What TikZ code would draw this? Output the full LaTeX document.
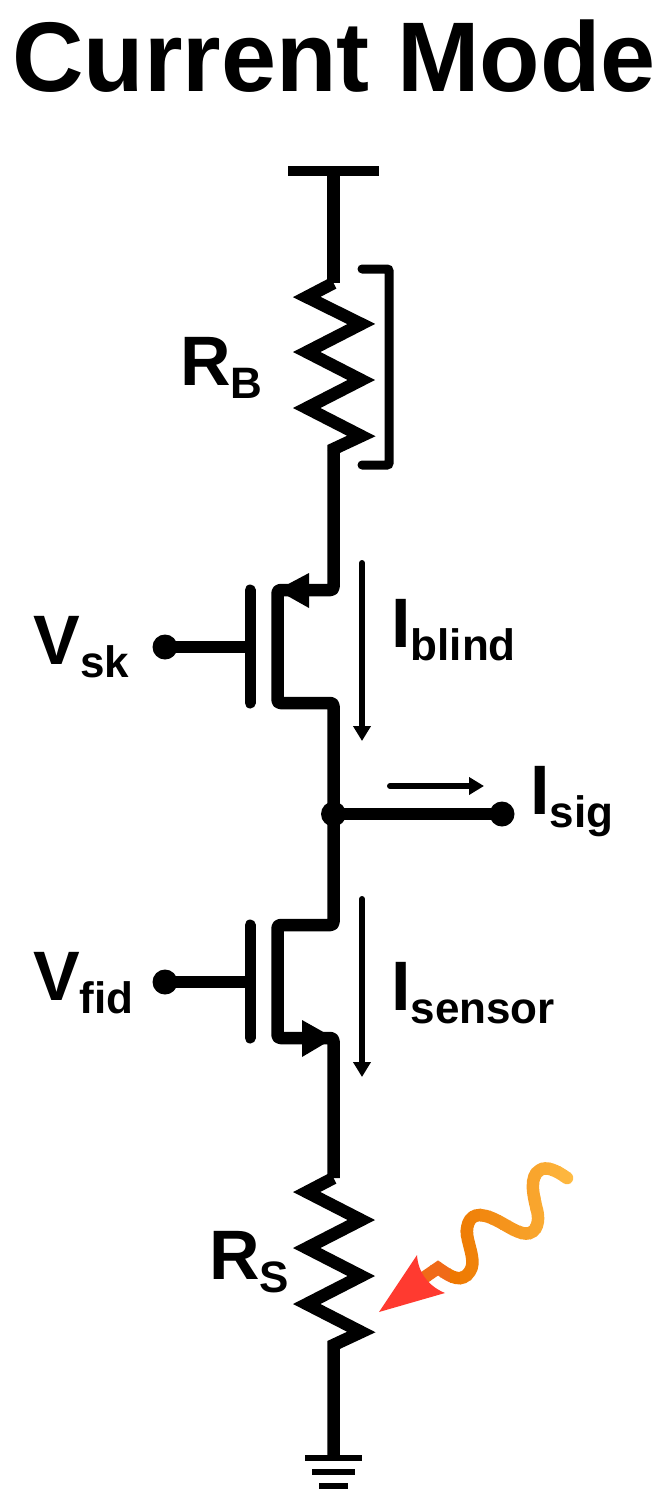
\documentclass[tikz,border=0pt]{standalone}
\usepackage{fontspec}
\usetikzlibrary{arrows.meta}
\setmainfont{Liberation Sans}
\newcommand{\wavypath}{(567,1178) .. controls (556,1170) and (546,1166) .. (540,1170) .. controls (529,1176) and (533,1195) .. (537,1210) .. controls (541,1227) and (533,1236) .. (522,1233) .. controls (510,1230) and (495,1216) .. (480,1215) .. controls (468,1215) and (465,1228) .. (468,1240) .. controls (472,1256) and (476,1266) .. (467,1275) .. controls (458,1283) and (447,1274) .. (438,1268) -- (422,1279)}
\newcommand{\sublabel}[2]{\fontsize{70}{70}\selectfont\bfseries #1\raisebox{-13pt}{\fontsize{44}{44}\selectfont #2}}
\begin{document}
\begin{tikzpicture}[x=1pt,y=-1pt]

    \tikzset{
      wire/.style={line width=12.5pt},
      thinwire/.style={line width=11.5pt},
      zigwire/.style={line width=12.5pt},
      gatebar/.style={line width=11pt,line cap=round},
      sensearrow/.style={line width=6pt,line cap=round,-{Triangle[length=15pt,width=17pt]}},
      terminal/.style={circle,fill=black,inner sep=0pt,minimum size=25pt},
      tranhead/.style={fill=black},
      textlabel/.style={anchor=base west,inner sep=0pt,text=black},
    }
    \useasboundingbox (0,0) rectangle (663,1510);

    \node[textlabel] (title) at (12,91) {\fontsize{99}{99}\selectfont\bfseries Current Mode};

    % supply and load
    \coordinate (vddleft) at (288,171);
    \coordinate (vddright) at (379,171);
    \coordinate (vdd) at (333.5,171);
    \coordinate (rbtop) at (333.5,283);
    \coordinate (rbbot) at (333.5,450);
    \draw[line width=10.5pt] (vddleft) -- (vddright);
    \draw[wire] (vdd) -- (rbtop);
    \draw[zigwire] (rbtop) -- (306.7,297) -- (361.3,324) -- (306.7,352) -- (361.3,380) -- (306.7,408) -- (361.3,436) -- (333.5,449) -- (rbbot);
    \coordinate (brtopa) at (362,269);
    \coordinate (brtopb) at (389,269);
    \coordinate (brbota) at (389,465);
    \coordinate (brbotb) at (362,465);
    \draw[line width=9pt,line cap=round,rounded corners=2pt] (brtopa) -- (brtopb) -- (brbota) -- (brbotb);
    \node[textlabel] (rblabel) at (180,385) {\sublabel{R}{B}};

    % blind transistor
    \coordinate (pdrain) at (333.5,590);
    \coordinate (pchtop) at (277.5,590);
    \coordinate (pchbot) at (277.5,703);
    \coordinate (psrc) at (333.5,703);
    \coordinate (midtop) at (333.5,814);
    \draw[wire,line join=round,rounded corners=3pt] (rbbot) -- (pdrain) -- (pchtop) -- (pchbot) -- (psrc) -- (midtop);
    \fill[tranhead] (277,590) -- (309,573) -- (309,608) -- cycle;
    \coordinate (pgatetop) at (250,590);
    \coordinate (pgatebot) at (250,703);
    \draw[gatebar] (pgatetop) -- (pgatebot);
    \node[terminal] (vsk) at (165,647) {};
    \coordinate (pgate) at (250,647);
    \draw[thinwire] (vsk.center) -- (pgate);
    \node[textlabel] (vsklabel) at (33.5,664) {\sublabel{V}{sk}};
    \coordinate (iba) at (362,563);
    \coordinate (ibb) at (362,741);
    \draw[sensearrow] (iba) -- (ibb);
    \node[textlabel] (iblabel) at (391,647) {\sublabel{I}{blind}};

    % output
    \node[terminal] (mid) at (333.5,814) {};
    \node[terminal] (isig) at (502,814) {};
    \draw[thinwire] (mid.center) -- (isig.center);
    \coordinate (isa) at (390,786);
    \coordinate (isb) at (484,786);
    \draw[sensearrow] (isa) -- (isb);
    \node[textlabel] (islabel) at (530,814) {\sublabel{I}{sig}};

    % sensor transistor
    \coordinate (ndrain) at (333.5,925);
    \coordinate (nchtop) at (277.5,925);
    \coordinate (nchbot) at (277.5,1038);
    \coordinate (nsrc) at (333.5,1038);
    \coordinate (rstop) at (333.5,1178);
    \draw[wire,line join=round,rounded corners=3pt] (mid.center) -- (ndrain) -- (nchtop) -- (nchbot) -- (nsrc) -- (rstop);
    \fill[tranhead] (334,1038) -- (302,1020) -- (302,1057) -- cycle;
    \coordinate (ngatetop) at (250,925);
    \coordinate (ngatebot) at (250,1038);
    \draw[gatebar] (ngatetop) -- (ngatebot);
    \node[terminal] (vfid) at (165,982) {};
    \coordinate (ngate) at (250,982);
    \draw[thinwire] (vfid.center) -- (ngate);
    \node[textlabel] (vfidlabel) at (33,1000) {\sublabel{V}{fid}};
    \coordinate (isna) at (362,899);
    \coordinate (isnb) at (362,1077);
    \draw[sensearrow] (isna) -- (isnb);
    \node[textlabel] (isnlabel) at (391,1010) {\sublabel{I}{sensor}};

    % sensor resistor and ground
    \coordinate (gnd) at (333.5,1458);
    \draw[zigwire] (rstop) -- (306.7,1192) -- (361.3,1220) -- (306.7,1248) -- (361.3,1276) -- (306.7,1304) -- (361.3,1332) -- (333.5,1345) -- (gnd);
    \node[textlabel] (rslabel) at (209,1279) {\sublabel{R}{S}};
    \coordinate (gnda) at (305,1458);
    \coordinate (gndb) at (362,1458);
    \coordinate (gndc) at (312,1472);
    \coordinate (gndd) at (355,1472);
    \coordinate (gnde) at (319,1486);
    \coordinate (gndf) at (348,1486);
    \draw[line width=6pt] (gnda) -- (gndb);
    \draw[line width=6pt] (gndc) -- (gndd);
    \draw[line width=6pt] (gnde) -- (gndf);

    % light
    \foreach \px in {410,420,...,570} {
      \pgfmathtruncatemacro{\pred}{\px<450 ? 240 : 238+(\px-450)*17/120}
      \pgfmathtruncatemacro{\pgreen}{\px<450 ? 106 : 120+(\px-450)*68/120}
      \pgfmathtruncatemacro{\pblue}{\px<450 ? 24 : (\px-450)*68/120}
      \definecolor{bandcol}{RGB}{\pred,\pgreen,\pblue}
      \begin{scope}
        \clip (\px,1150) rectangle (\px+11,1300);
        \draw[line width=12.5pt,line cap=round,color=bandcol] \wavypath;
      \end{scope}
    }
    \fill[color={rgb,255:red,255;green,58;blue,48}] (379,1312) -- (417,1255) .. controls (418,1272) and (428,1286) .. (445,1293) -- cycle;

\end{tikzpicture}
\end{document}
